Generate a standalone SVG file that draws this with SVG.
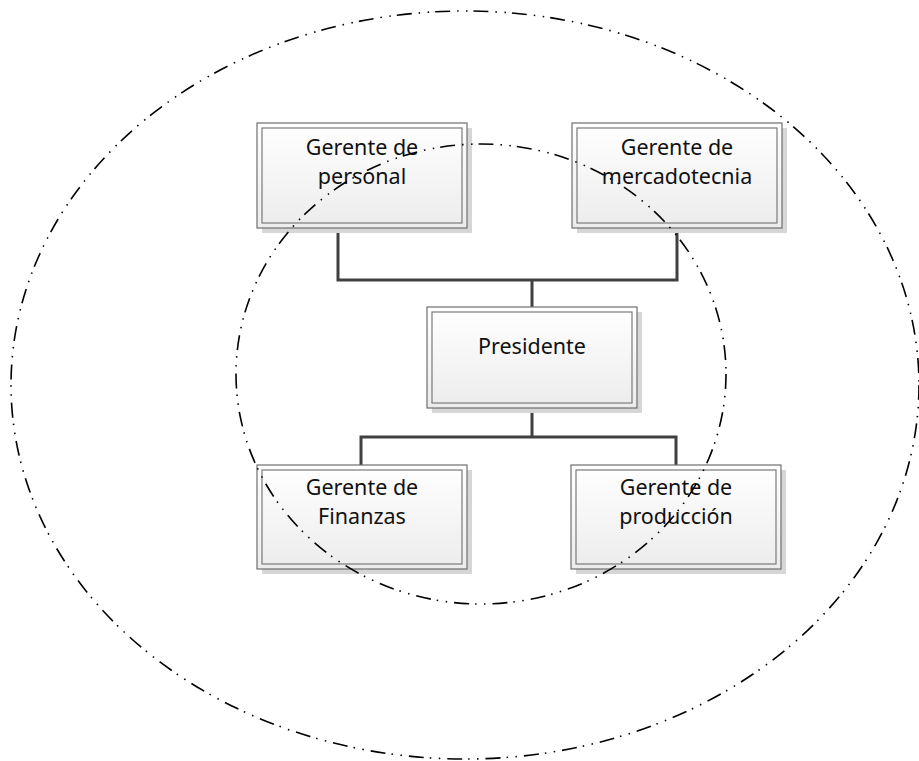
<svg xmlns="http://www.w3.org/2000/svg" width="919" height="761" viewBox="0 0 919 761">
  <defs>
    <linearGradient id="boxFill" x1="0" y1="0" x2="0" y2="1">
      <stop offset="0" stop-color="#ffffff"/>
      <stop offset="1" stop-color="#ececec"/>
    </linearGradient>
  </defs>
  <style>
    .shadow { fill: #d6d6d6; }
    .outer { fill: url(#boxFill); stroke: #6e6e6e; stroke-width: 1.2; }
    .inner { fill: none; stroke: #7a7a7a; stroke-width: 1.2; }
    .label { font-family: "Noto Sans", "Open Sans", sans-serif; font-size: 21.5px; fill: #111; text-anchor: middle; }
    .wire { fill: none; stroke: #404040; stroke-width: 3; }
    .ring { fill: none; stroke: #000; stroke-width: 1.6; stroke-dasharray: 15 7 1.5 7.5 1.5 6; }
  </style>

  <g id="outer-ring">
    <ellipse class="ring" cx="465" cy="385" rx="454" ry="374"/>
  </g>

  <g id="connectors">
    <polyline class="wire" points="338,228 338,280 677,280 677,228"/>
    <line class="wire" x1="532" y1="280" x2="532" y2="307"/>
    <line class="wire" x1="532" y1="408" x2="532" y2="437"/>
    <polyline class="wire" points="361,465 361,437 676,437 676,465"/>
  </g>

  <g id="gerente-personal">
    <rect class="shadow" x="262" y="128" width="210" height="105"/>
    <rect class="outer" x="257" y="123" width="210" height="105"/>
    <rect class="inner" x="262" y="128" width="200" height="95"/>
    <text class="label" x="362" y="155">Gerente de</text>
    <text class="label" x="362" y="184">personal</text>
  </g>

  <g id="gerente-mercadotecnia">
    <rect class="shadow" x="577" y="128" width="210" height="105"/>
    <rect class="outer" x="572" y="123" width="210" height="105"/>
    <rect class="inner" x="577" y="128" width="200" height="95"/>
    <text class="label" x="677" y="155">Gerente de</text>
    <text class="label" x="677" y="184">mercadotecnia</text>
  </g>

  <g id="presidente">
    <rect class="shadow" x="432" y="312" width="210" height="101"/>
    <rect class="outer" x="427" y="307" width="210" height="101"/>
    <rect class="inner" x="432" y="312" width="200" height="91"/>
    <text class="label" x="532" y="354">Presidente</text>
  </g>

  <g id="gerente-finanzas">
    <rect class="shadow" x="262" y="470" width="210" height="104"/>
    <rect class="outer" x="257" y="465" width="210" height="104"/>
    <rect class="inner" x="262" y="470" width="200" height="94"/>
    <text class="label" x="362" y="495">Gerente de</text>
    <text class="label" x="362" y="524">Finanzas</text>
  </g>

  <g id="gerente-produccion">
    <rect class="shadow" x="576" y="470" width="210" height="104"/>
    <rect class="outer" x="571" y="465" width="210" height="104"/>
    <rect class="inner" x="576" y="470" width="200" height="94"/>
    <text class="label" x="676" y="495">Gerente de</text>
    <text class="label" x="676" y="524">producción</text>
  </g>

  <g id="inner-ring">
    <ellipse class="ring" cx="481" cy="374" rx="245" ry="230"/>
  </g>
</svg>
